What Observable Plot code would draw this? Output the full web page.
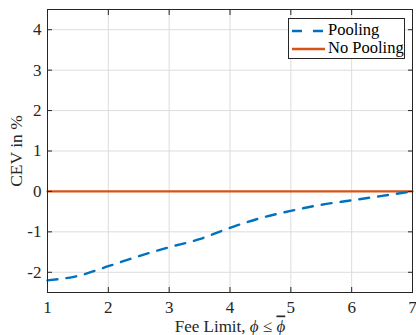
<!DOCTYPE html>
<html><head><meta charset="utf-8">
<script src="https://cdn.jsdelivr.net/npm/d3@7"></script>
<script src="https://cdn.jsdelivr.net/npm/@observablehq/plot@0.6"></script>
<style>
body{margin:0;background:#fff;}
#wrap{position:relative;width:416px;height:335px;font-family:"Liberation Serif","Times New Roman",serif;}
svg text, svg tspan{font-family:"Liberation Serif","Times New Roman",serif !important;}
#legend{position:absolute;left:288px;top:18px;width:117px;height:41px;border:1px solid #262626;background:#fff;box-sizing:border-box;font-size:16.5px;color:#000;}
#legend .row{position:absolute;left:3px;height:18px;line-height:18px;white-space:nowrap;}
#legend svg{vertical-align:middle;}
</style>
</head><body>
<div id="wrap"><div id="legend"></div></div>
<script>
const feeLimit = [1, 1.5, 2, 2.5, 3, 3.5, 4, 4.5, 5, 5.5, 6, 6.5, 7];
const pooling = [-2.2, -2.09, -1.85, -1.6, -1.38, -1.18, -0.9, -0.66, -0.48, -0.33, -0.22, -0.11, 0];
const noPooling = [0, 0, 0, 0, 0, 0, 0, 0, 0, 0, 0, 0, 0];
const xTicks = [1, 2, 3, 4, 5, 6, 7];
const yTicks = [-2, -1, 0, 1, 2, 3, 4];
const seriesNames = ["Pooling", "No Pooling"];
const colors = ["#0072BD", "#D95319"];
const xLabel = "Fee Limit, ϕ ≤ ϕ";
const yLabel = "CEV in %";

const poolData = feeLimit.map((x, i) => ({x, y: pooling[i]}));
const noPoolData = feeLimit.map((x, i) => ({x, y: noPooling[i]}));

const axisColor = "#262626";
const fmt = d => String(d);
const chart = Plot.plot({
  width: 416, height: 335,
  marginLeft: 47, marginRight: 4, marginTop: 9, marginBottom: 43,
  style: {fontFamily: "'Liberation Serif','Times New Roman',serif", fontSize: "17px", color: axisColor, background: "#fff"},
  x: {domain: [1, 7], ticks: xTicks},
  y: {domain: [-2.5, 4.5], ticks: yTicks},
  marks: [
    Plot.gridX(xTicks, {stroke: "#dcdcdc", strokeOpacity: 1, strokeWidth: 1}),
    Plot.gridY(yTicks, {stroke: "#dcdcdc", strokeOpacity: 1, strokeWidth: 1}),
    Plot.line(noPoolData, {x: "x", y: "y", stroke: colors[1], strokeWidth: 2.2}),
    Plot.line(poolData, {x: "x", y: "y", stroke: colors[0], strokeWidth: 2.4, strokeDasharray: "10,9", curve: "monotone-x"}),
    Plot.axisX(xTicks, {tickSize: -5, tickPadding: 13, tickFormat: fmt, stroke: axisColor, fill: "#262626", fontSize: 17, label: xLabel, labelAnchor: "center", labelOffset: 39, labelArrow: false}),
    Plot.axisX(xTicks, {anchor: "top", tickSize: -5, tickFormat: () => "", stroke: axisColor, label: null}),
    Plot.axisY(yTicks, {tickSize: -5, tickPadding: 11, tickFormat: fmt, stroke: axisColor, fill: "#262626", fontSize: 17, label: yLabel, labelAnchor: "center", labelOffset: 38, labelArrow: false}),
    Plot.axisY(yTicks, {anchor: "right", tickSize: -5, tickFormat: () => "", stroke: axisColor, label: null}),
    Plot.frame({stroke: axisColor, strokeWidth: 1})
  ]
});
document.getElementById("wrap").insertBefore(chart, document.getElementById("legend"));

// axis titles slightly larger; italic phi, second with overline
d3.select(chart).selectAll("text").each(function() {
  const t = d3.select(this);
  if (t.text() === yLabel) t.style("font-size", "17.5px");
  if (t.text() === xLabel) {
    t.style("font-size", "17px");
    t.text(null);
    t.append("tspan").text("Fee Limit, ");
    t.append("tspan").attr("font-style", "italic").text("ϕ");
    t.append("tspan").text(" ≤ ");
    t.append("tspan").attr("font-style", "italic").style("text-decoration", "overline").text("ϕ");
  }
});

// legend
const leg = document.getElementById("legend");
seriesNames.forEach((name, i) => {
  const row = document.createElement("div");
  row.className = "row";
  row.style.top = (i * 18 + 2) + "px";
  const dash = i === 0 ? "10,11" : "none";
  row.innerHTML = `<svg width="33" height="10"><line x1="0" x2="33" y1="5" y2="5" stroke="${colors[i]}" stroke-width="2.4" stroke-dasharray="${dash}"/></svg><span style="margin-left:3px">${name}</span>`;
  leg.appendChild(row);
});
</script>
</body></html>
